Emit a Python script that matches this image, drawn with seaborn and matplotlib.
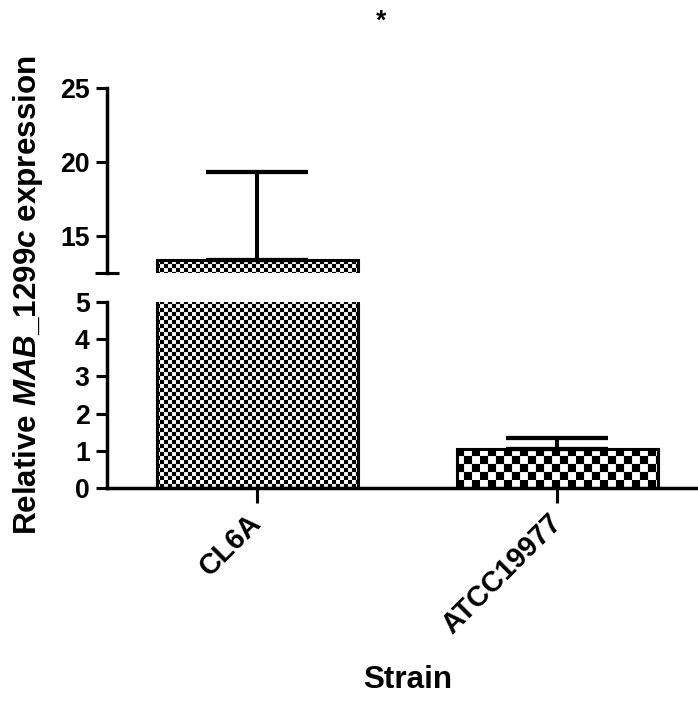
import warnings
warnings.filterwarnings("ignore")
import numpy as np
import matplotlib
matplotlib.use("Agg")
import matplotlib.pyplot as plt
import matplotlib.hatch as mhatch
from matplotlib.path import Path
import seaborn as sns

# ---- data ----
strains = ["CL6A", "ATCC19977"]
means = [13.4, 1.05]
errors = [5.9, 0.29]
hatches = ["cccc", "cc"]   # fine / coarse checkerboard
top_ticks = [15, 20, 25]
bottom_ticks = [0, 1, 2, 3, 4, 5]


# ---- custom checkerboard hatch ----
class CheckerHatch(mhatch.HatchPatternBase):
    def __init__(self, hatch, density):
        k = hatch.count("c")
        self.n = k * int(density)
        if self.n % 2:
            self.n += 1
        self.num_vertices = (self.n * self.n // 2) * 5 if k else 0

    def set_vertices_and_codes(self, vertices, codes):
        n = self.n
        s = 1.0 / n
        parts = []
        for j in range(n):
            for i in range(n):
                if (i + j) % 2 == 0:
                    x0, y0 = i * s, j * s
                    parts.append([[x0, y0], [x0 + s, y0], [x0 + s, y0 + s],
                                  [x0, y0 + s], [x0, y0]])
        vertices[:] = np.array(parts).reshape(-1, 2)
        codes[:] = np.tile([Path.MOVETO, Path.LINETO, Path.LINETO,
                            Path.LINETO, Path.CLOSEPOLY], len(parts))


mhatch._hatch_types.append(CheckerHatch)

sns.set_style("ticks")
plt.rcParams["font.family"] = ["Liberation Sans", "DejaVu Sans"]
plt.rcParams["font.weight"] = "bold"
plt.rcParams["mathtext.fontset"] = "custom"
plt.rcParams["mathtext.rm"] = "Liberation Sans:bold"
plt.rcParams["mathtext.it"] = "Liberation Sans:italic:bold"
plt.rcParams["mathtext.bf"] = "Liberation Sans:bold"
plt.rcParams["hatch.linewidth"] = 0.1
plt.rcParams["hatch.color"] = "black"
for k in ["text.color", "axes.labelcolor", "xtick.color", "ytick.color",
          "axes.edgecolor"]:
    plt.rcParams[k] = "black"

DPI = 96
fig = plt.figure(figsize=(698 / DPI, 702 / DPI), dpi=DPI)
W, H = 698, 702
left = 107 / W
ax_top = fig.add_axes([left, 1 - 273 / H, 1 - left, (273 - 88) / H])
ax_bot = fig.add_axes([left, 1 - 488 / H, 1 - left, (488 - 302) / H])

lw_spine = 2.6
for ax in (ax_top, ax_bot):
    sns.barplot(x=strains, y=means, ax=ax, width=0.67, color="white",
                edgecolor="black", linewidth=2.3, saturation=1)
    for p, h in zip(ax.patches, hatches):
        p.set_hatch(h)
        p.set_facecolor("white")
    ax.errorbar(x=np.arange(len(strains)), y=means,
                yerr=[np.zeros(len(errors)), errors], fmt="none",
                ecolor="black", elinewidth=3, capsize=38.5, capthick=3.2)
    ax.set_xlim(-0.5, 1.47)
    ax.spines["right"].set_visible(False)
    ax.spines["top"].set_visible(False)
    ax.spines["left"].set_linewidth(lw_spine)
    ax.spines["bottom"].set_linewidth(lw_spine)
    ax.tick_params(axis="y", which="major", direction="out", length=8,
                   width=2.3, labelsize=20, pad=5, colors="black")
    ax.set_ylabel("")
    ax.set_xlabel("")
    for t in ax.get_yticklabels():
        t.set_fontweight("bold")

# top panel
ax_top.set_ylim(12.5, 25)
ax_top.set_yticks(top_ticks)
ax_top.set_yticks([12.5], minor=True)
ax_top.tick_params(axis="y", which="minor", direction="inout", length=18,
                   width=2.3, colors="black")
ax_top.spines["bottom"].set_visible(False)
ax_top.tick_params(axis="x", which="both", bottom=False, labelbottom=False)
ax_top.spines["left"].set_bounds(12.5, 25)

# bottom panel
ax_bot.set_ylim(0, 5)
ax_bot.set_yticks(bottom_ticks)
ax_bot.set_yticks([5], minor=True)
ax_bot.tick_params(axis="y", which="minor", direction="inout", length=18,
                   width=2.3, colors="black")
ax_bot.tick_params(axis="x", direction="out", length=11, width=2.3,
                   labelsize=21.5, pad=12, colors="black")
for t in ax_bot.get_xticklabels():
    t.set_rotation(45)
    t.set_ha("right")
    t.set_va("center")
    t.set_rotation_mode("anchor")
    t.set_fontweight("bold")

ax_bot.set_xlabel("Strain", fontsize=23.5, fontweight="bold")
ax_bot.xaxis.set_label_coords((408 - 107) / (W - 107), -(680 - 488) / (488 - 302))
ax_bot.xaxis.label.set_va("center")

fig.text(28 / W, 1 - 295 / H, r"Relative $\mathit{MAB\_1299c}$ expression",
         rotation=90, ha="center", va="center", fontsize=23.5, fontweight="bold")
fig.text(381 / W, 1 - 22 / H, "*", ha="center", va="center", fontsize=20,
         fontweight="bold")

fig.savefig("out.png", dpi=DPI)
